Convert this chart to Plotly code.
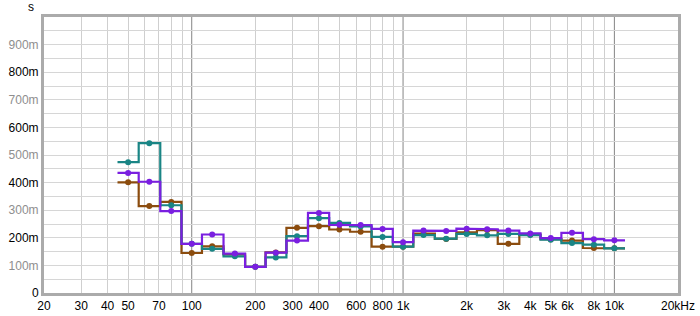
import numpy as np
import plotly.graph_objects as go

freqs = [50, 63, 80, 100, 125, 160, 200, 250, 315, 400, 500, 630, 800,
         1000, 1250, 1600, 2000, 2500, 3150, 4000, 5000, 6300, 8000, 10000]

brown = [0.401, 0.315, 0.330, 0.145, 0.169, 0.140, 0.095, 0.147, 0.236, 0.242, 0.230, 0.222, 0.168,
         0.168, 0.215, 0.196, 0.220, 0.228, 0.178, 0.212, 0.195, 0.190, 0.163, 0.162]
teal = [0.474, 0.543, 0.318, 0.178, 0.160, 0.133, 0.095, 0.129, 0.206, 0.271, 0.254, 0.241, 0.203,
        0.168, 0.210, 0.197, 0.214, 0.209, 0.214, 0.210, 0.193, 0.181, 0.175, 0.162]
purple = [0.435, 0.403, 0.297, 0.178, 0.212, 0.143, 0.095, 0.146, 0.190, 0.290, 0.247, 0.246, 0.232,
          0.184, 0.226, 0.225, 0.233, 0.231, 0.226, 0.216, 0.199, 0.218, 0.195, 0.191]

series = [("brown", brown, "#8b4c0e"), ("teal", teal, "#1a8585"), ("purple", purple, "#7a1fe0")]

xtick_vals = [20, 30, 40, 50, 70, 100, 200, 300, 400, 600, 800, 1000, 2000, 3000, 4000,
              5000, 6000, 8000, 10000, 20000]
xtick_text = ["20", "30", "40", "50", "70", "100", "200", "300", "400", "600", "800", "1k",
              "2k", "3k", "4k", "5k", "6k", "8k", "10k", "20kHz"]
ytick_vals = [0, 0.1, 0.2, 0.3, 0.4, 0.5, 0.6, 0.7, 0.8, 0.9]
ytick_text = ["0", "100m", "200m", "300m", "400m", "500m", "600m", "700m", "800m", "900m"]

# band edges (geometric midpoints)
f = np.array(freqs, dtype=float)
mids = np.sqrt(f[:-1] * f[1:])
edges = np.concatenate([[f[0] / 2 ** (1 / 6)], mids, [f[-1] * 2 ** (1 / 6)]])

fig = go.Figure()
for name, vals, col in series:
    xs, ys = [], []
    for i, v in enumerate(vals):
        xs += [edges[i], edges[i + 1]]
        ys += [v, v]
    fig.add_trace(go.Scatter(x=xs, y=ys, mode="lines", line=dict(color=col, width=2.2),
                             showlegend=False, hoverinfo="skip"))
    fig.add_trace(go.Scatter(x=freqs, y=vals, mode="markers", marker=dict(color=col, size=6),
                             showlegend=False, name=name))

# grid lines
minor_grid = []
for dec in [10, 100, 1000, 10000]:
    for m in range(2, 10):
        v = dec * m
        if 20 <= v <= 20000:
            minor_grid.append(v)
for d in [100, 1000, 10000]:
    fig.add_shape(type="line", xref="x", yref="paper", x0=d, x1=d, y0=0, y1=1,
                  line=dict(color="#858585", width=1), layer="below")

gray = "#8e8e8e"
ytext = [(t if i % 2 == 0 else f'<span style="color:{gray}">{t}</span>') for i, t in enumerate(ytick_text)]

fig.update_layout(
    width=700, height=316,
    margin=dict(l=44, r=22, t=17, b=23),
    paper_bgcolor="white", plot_bgcolor="white",
    font=dict(family="Arial, Liberation Sans, sans-serif", size=12, color="black"),
    xaxis=dict(type="log", range=[np.log10(20), np.log10(20000)], automargin=False,
               tickmode="array", tickvals=xtick_vals, ticktext=xtick_text,
               showgrid=False, zeroline=False, ticks="", ticklen=0,
               showline=True, mirror=True, linecolor="#ababab", linewidth=3,
               minor=dict(tickmode="array", tickvals=minor_grid, showgrid=True,
                          gridcolor="#cfcfcf", gridwidth=1, ticks=""),
               tickfont=dict(size=12)),
    yaxis=dict(range=[0, 1], tickmode="array", tickvals=ytick_vals, ticktext=ytext,
               automargin=False,
               showgrid=True, gridcolor="#d6d6d6", gridwidth=1, zeroline=False,
               showline=True, mirror=True, linecolor="#ababab", linewidth=3,
               ticks="", ticklen=0,
               minor=dict(dtick=0.05, showgrid=True, gridcolor="#d6d6d6", gridwidth=1, ticks=""),
               tickfont=dict(size=12)),
    annotations=[dict(text="s", xref="paper", yref="paper", x=-0.021, y=1.0, xanchor="center",
                      yanchor="bottom", showarrow=False, font=dict(size=12), yshift=1)],
)

fig.write_html("out.html")
